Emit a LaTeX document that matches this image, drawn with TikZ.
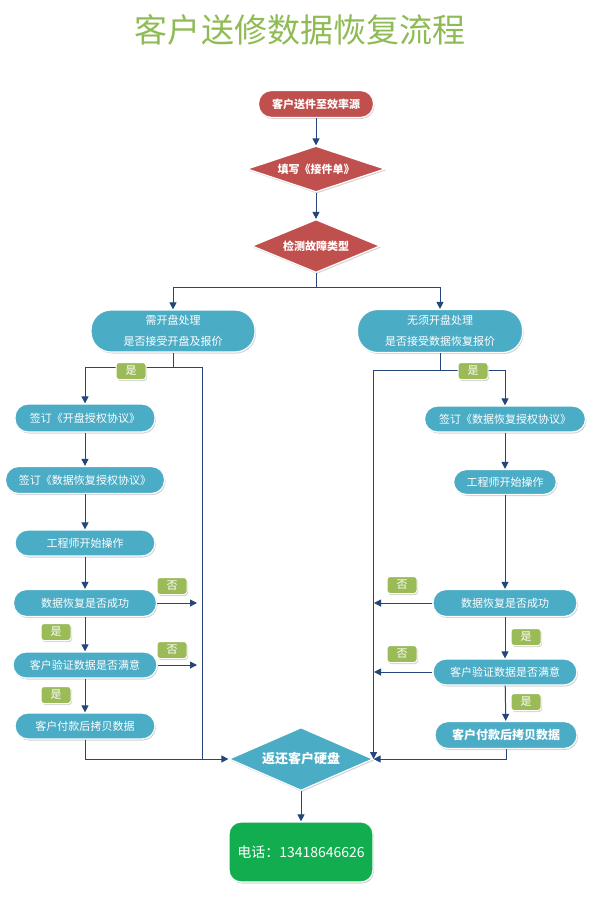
\documentclass[tikz,border=0pt]{standalone}
\usepackage{fontspec}
\setmainfont{Noto Sans CJK SC}
\usetikzlibrary{shapes.geometric,arrows.meta,shadows}
\definecolor{redbox}{HTML}{C0504D}
\definecolor{bluebox}{HTML}{4BACC6}
\definecolor{lblgreen}{HTML}{9BBB59}
\definecolor{linec}{HTML}{24467A}
\definecolor{phonegreen}{HTML}{12AD4F}
\definecolor{titlegreen}{HTML}{8FBB55}
\tikzset{
  shad/.style={drop shadow={shadow xshift=1bp,shadow yshift=-1.5bp,opacity=0.35}},
  boxbase/.style={draw=white,line width=1.2bp,text=white,inner sep=0pt,shad,font=\fontsize{11bp}{13bp}\selectfont},
  pill/.style={boxbase,rectangle,fill=bluebox,rounded corners=13bp},
  bigpill/.style={boxbase,rectangle,fill=bluebox,rounded corners=20bp,align=center,font=\fontsize{11bp}{21bp}\selectfont},
  redpill/.style={boxbase,rectangle,fill=redbox,rounded corners=13bp,font=\fontsize{11bp}{13bp}\selectfont\bfseries},
  reddia/.style={boxbase,diamond,shape aspect=2.8,fill=redbox,font=\fontsize{11bp}{13bp}\selectfont\bfseries},
  lbl/.style={draw=white,line width=1bp,fill=lblgreen,text=white,rounded corners=3bp,minimum width=30bp,minimum height=17bp,inner sep=0pt,shad,font=\fontsize{11bp}{13bp}\selectfont},
  conn/.style={draw=linec,line width=1bp},
  arr/.style={conn,-{Triangle[length=7bp,width=7bp]}},
}
\begin{document}
\begin{tikzpicture}[x=1bp,y=-1bp]
\useasboundingbox (0,0) rectangle (600,905);
% title
\node[text=titlegreen,font=\fontsize{33bp}{37bp}\selectfont] (title) at (300,30) {客户送修数据恢复流程};
% top
\node[redpill,minimum width=115bp,minimum height=27bp] (start) at (316,104) {客户送件至效率源};
\node[reddia,minimum width=138bp,minimum height=46bp] (d1) at (316,169) {填写《接件单》};
\node[reddia,minimum width=128bp,minimum height=53bp] (d2) at (316,246) {检测故障类型};
% second level
\node[bigpill,minimum width=164bp,minimum height=42bp] (needL) at (173,331) {需开盘处理\\是否接受开盘及报价};
\node[bigpill,minimum width=165bp,minimum height=43bp] (noL) at (440,331) {无须开盘处理\\是否接受数据恢复报价};
% left column
\node[pill,minimum width=140bp,minimum height=28bp] (L1) at (85,418) {签订《开盘授权协议》};
\node[pill,minimum width=159bp,minimum height=27bp] (L2) at (85,480) {签订《数据恢复授权协议》};
\node[pill,minimum width=140bp,minimum height=26bp] (L3) at (85,543) {工程师开始操作};
\node[pill,minimum width=143bp,minimum height=27bp] (L4) at (85,603) {数据恢复是否成功};
\node[pill,minimum width=144bp,minimum height=26bp] (L5) at (85,665) {客户验证数据是否满意};
\node[pill,minimum width=140bp,minimum height=26bp] (L6) at (85,726) {客户付款后拷贝数据};
% right column
\node[pill,minimum width=161bp,minimum height=26bp] (R1) at (505,419) {签订《数据恢复授权协议》};
\node[pill,minimum width=103bp,minimum height=25bp] (R2) at (505,482) {工程师开始操作};
\node[pill,minimum width=144bp,minimum height=27bp] (R3) at (505,603) {数据恢复是否成功};
\node[pill,minimum width=144bp,minimum height=26bp] (R4) at (505,672) {客户验证数据是否满意};
\node[pill,minimum width=142bp,minimum height=27bp,font=\fontsize{12bp}{14bp}\selectfont\bfseries] (R5) at (506,735) {客户付款后拷贝数据};
% bottom
\node[boxbase,diamond,shape aspect=2.3,fill=bluebox,minimum width=144bp,minimum height=63bp,font=\fontsize{13bp}{15bp}\selectfont\bfseries] (ret) at (301,759) {返还客户硬盘};
\node[boxbase,rectangle,fill=phonegreen,rounded corners=12bp,minimum width=144bp,minimum height=60bp,font=\fontsize{14bp}{16bp}\selectfont] (phone) at (301,852) {电话：13418646626};
% coordinates
\coordinate (fk) at (316,287);
\coordinate (lfk) at (173,367);
\coordinate (lbot) at (202,759);
\coordinate (lx) at (197,0);
\coordinate (rfk) at (440,370);
\coordinate (rx) at (374,0);
% connectors top
\draw[arr] (start) -- (d1);
\draw[arr] (d1) -- (d2);
\draw[conn] (d2.south) -- (fk);
\draw[arr] (fk) -| (needL.north);
\draw[arr] (fk) -| (noL.north);
% left branch
\draw[conn] (needL.south) -- (lfk);
\draw[arr] (lfk) -| (L1.north);
\draw[conn] (lfk) -| (lbot);
\draw[arr] (L1) -- (L2);
\draw[arr] (L2) -- (L3);
\draw[arr] (L3) -- (L4);
\draw[arr] (L4) -- (L5);
\draw[arr] (L5) -- (L6);
\draw[arr] (L4.east) -- (L4.east -| lx);
\draw[arr] (L5.east) -- (L5.east -| lx);
\draw[arr] (L6.south) |- (ret.west);
% right branch
\draw[conn] (noL.south) -- (rfk);
\draw[arr] (rfk) -| (R1.north);
\draw[arr] (rfk) -| (ret.east);
\draw[arr] (R1) -- (R2);
\draw[arr] (R2) -- (R3);
\draw[arr] (R3) -- (R4);
\draw[arr] (R4) -- (R5);
\draw[arr] (R3.west) -- (R3.west -| rx);
\draw[arr] (R4.west) -- (R4.west -| rx);
\draw[arr] (R5.south) |- (ret.east);
\draw[arr] (ret) -- (phone);
% labels
\node[lbl] (yL0) at (131,371) {是};
\node[lbl] (nL1) at (172,586) {否};
\node[lbl] (yL1) at (56,632) {是};
\node[lbl] (nL2) at (172,650) {否};
\node[lbl] (yL2) at (56,695) {是};
\node[lbl] (yR0) at (473,371) {是};
\node[lbl] (nR1) at (402,585) {否};
\node[lbl] (yR1) at (526,637) {是};
\node[lbl] (nR2) at (402,654) {否};
\node[lbl] (yR2) at (526,702) {是};
\end{tikzpicture}
\end{document}
